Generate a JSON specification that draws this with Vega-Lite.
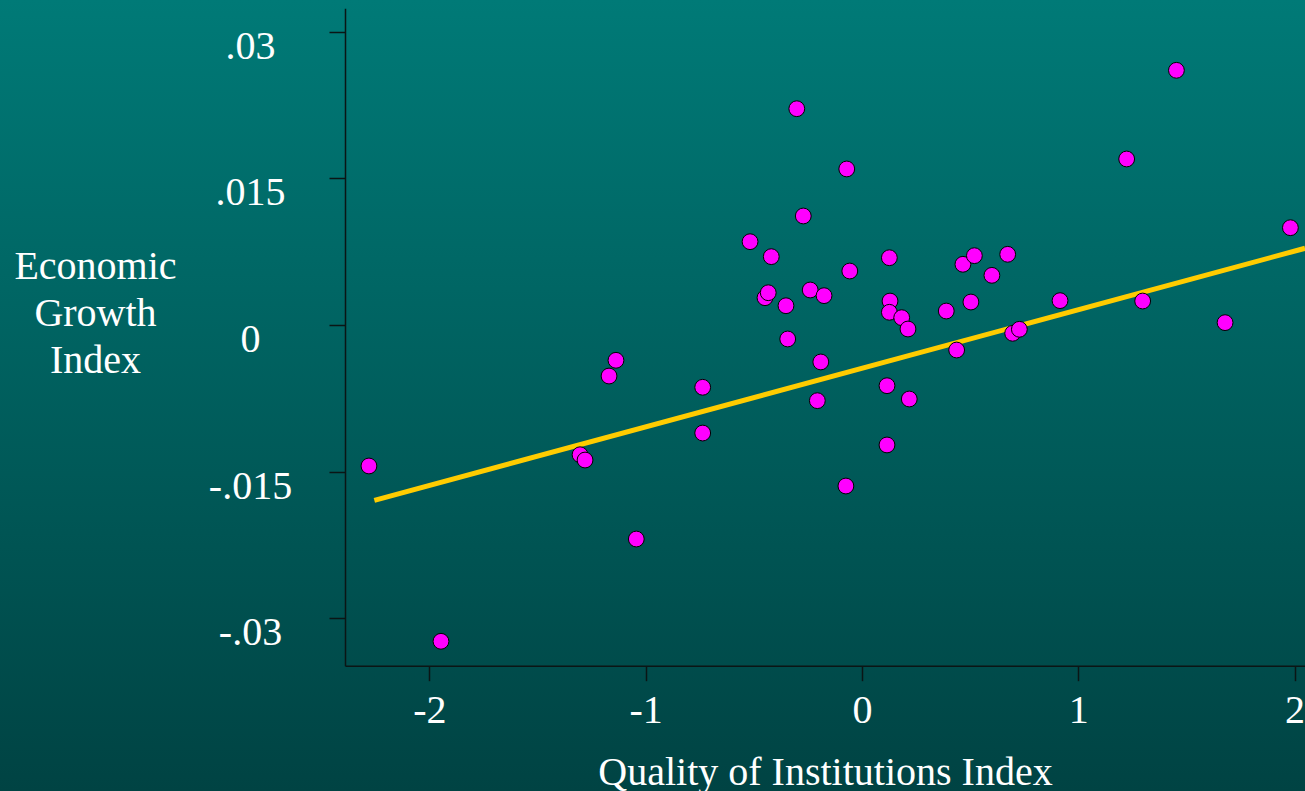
{
  "$schema": "https://vega.github.io/schema/vega-lite/v6.json",
  "width": 1305,
  "height": 791,
  "autosize": {"type": "none"},
  "padding": 0,
  "background": "#005f5e",
  "config": {
    "view": {
      "stroke": null,
      "fill": {"gradient": "linear", "x1": 0, "y1": 0, "x2": 0, "y2": 1, "stops": [{"offset": 0, "color": "#007a77"}, {"offset": 1, "color": "#004343"}]}
    },
    "axis": {
      "grid": false,
      "domainColor": "#0b1515",
      "domainWidth": 1.5,
      "tickColor": "#0b1515",
      "tickWidth": 1.5,
      "labelFont": "Liberation Serif",
      "labelFontSize": 40,
      "labelColor": "#ffffff",
      "titleFont": "Liberation Serif",
      "titleFontSize": 40,
      "titleFontWeight": "normal",
      "titleColor": "#ffffff",
      "labelOverlap": false,
      "labelFlush": false
    }
  },
  "datasets": {
    "pts": [
      {"qi": -2.279, "growth": -0.01442},
      {"qi": -1.946, "growth": -0.03235},
      {"qi": -1.303, "growth": -0.01327},
      {"qi": -1.280, "growth": -0.01381},
      {"qi": -1.137, "growth": -0.00361},
      {"qi": -1.169, "growth": -0.00522},
      {"qi": -1.043, "growth": -0.02189},
      {"qi": -0.736, "growth": -0.00637},
      {"qi": -0.736, "growth": -0.01105},
      {"qi": -0.517, "growth": 0.00852},
      {"qi": -0.419, "growth": 0.00699},
      {"qi": -0.448, "growth": 0.00279},
      {"qi": -0.433, "growth": 0.00330},
      {"qi": -0.351, "growth": 0.00197},
      {"qi": -0.343, "growth": -0.00143},
      {"qi": -0.301, "growth": 0.02212},
      {"qi": -0.271, "growth": 0.01115},
      {"qi": -0.239, "growth": 0.00358},
      {"qi": -0.175, "growth": 0.00300},
      {"qi": -0.190, "growth": -0.00378},
      {"qi": -0.206, "growth": -0.00774},
      {"qi": -0.070, "growth": 0.01596},
      {"qi": -0.056, "growth": 0.00552},
      {"qi": -0.074, "growth": -0.01647},
      {"qi": 0.127, "growth": 0.00688},
      {"qi": 0.130, "growth": 0.00245},
      {"qi": 0.127, "growth": 0.00130},
      {"qi": 0.184, "growth": 0.00075},
      {"qi": 0.213, "growth": -0.00041},
      {"qi": 0.116, "growth": -0.00621},
      {"qi": 0.116, "growth": -0.01227},
      {"qi": 0.219, "growth": -0.00757},
      {"qi": 0.390, "growth": 0.00143},
      {"qi": 0.438, "growth": -0.00256},
      {"qi": 0.467, "growth": 0.00621},
      {"qi": 0.520, "growth": 0.00709},
      {"qi": 0.504, "growth": 0.00235},
      {"qi": 0.601, "growth": 0.00508},
      {"qi": 0.674, "growth": 0.00723},
      {"qi": 0.697, "growth": -0.00085},
      {"qi": 0.728, "growth": -0.00044},
      {"qi": 0.916, "growth": 0.00249},
      {"qi": 1.224, "growth": 0.01698},
      {"qi": 1.298, "growth": 0.00245},
      {"qi": 1.454, "growth": 0.02605},
      {"qi": 1.679, "growth": 0.00024},
      {"qi": 1.981, "growth": 0.00995}
    ],
    "fit": [
      {"qi": -2.254, "growth": -0.01793},
      {"qi": 2.0485, "growth": 0.007846}
    ]
  },
  "layer": [
    {
      "data": {"name": "fit"},
      "mark": {"type": "line", "color": "#ffcc00", "strokeWidth": 5},
      "encoding": {
        "x": {
          "field": "qi", "type": "quantitative",
          "scale": {"domain": [-2.3897, 2.0485], "range": [345, 1305], "nice": false, "zero": false},
          "axis": {
            "title": "Quality of Institutions Index",
            "orient": "bottom",
            "offset": -125.3,
            "values": [-2, -1, 0, 1, 2],
            "labelExpr": "(datum.value < 0 ? '-' : '') + format(abs(datum.value), 'd')",
            "tickSize": 15,
            "labelPadding": 10,
            "labelBaseline": "top",
            "titleX": 825,
            "titleY": 119,
            "titleAnchor": null,
            "titleBaseline": "alphabetic",
            "titleAlign": "center"
          }
        },
        "y": {
          "field": "growth", "type": "quantitative",
          "scale": {"domain": [-0.034847, 0.032392], "range": [665.7, 8.3], "nice": false, "zero": false},
          "axis": {
            "title": ["Economic", "Growth", "Index"],
            "orient": "left",
            "offset": -345,
            "values": [-0.03, -0.015, 0, 0.015, 0.03],
            "labelExpr": "(datum.value < 0 ? '-' : '') + replace(format(abs(datum.value), '.3~f'), '0.', '.')",
            "tickSize": 16,
            "labelPadding": 79,
            "labelAlign": "center",
            "labelBaseline": "alphabetic",
            "labelOffset": 26.5,
            "titleAngle": 0,
            "titleX": -250,
            "titleY": 278,
            "titleAlign": "center",
            "titleBaseline": "alphabetic",
            "titleLineHeight": 47,
            "titleAnchor": null
          }
        }
      }
    },
    {
      "data": {"name": "pts"},
      "mark": {"type": "point", "shape": "circle", "filled": true, "fill": "#ff00ff", "stroke": "#000000", "strokeWidth": 1, "size": 250, "opacity": 1},
      "encoding": {
        "x": {"field": "qi", "type": "quantitative"},
        "y": {"field": "growth", "type": "quantitative"}
      }
    }
  ]
}
